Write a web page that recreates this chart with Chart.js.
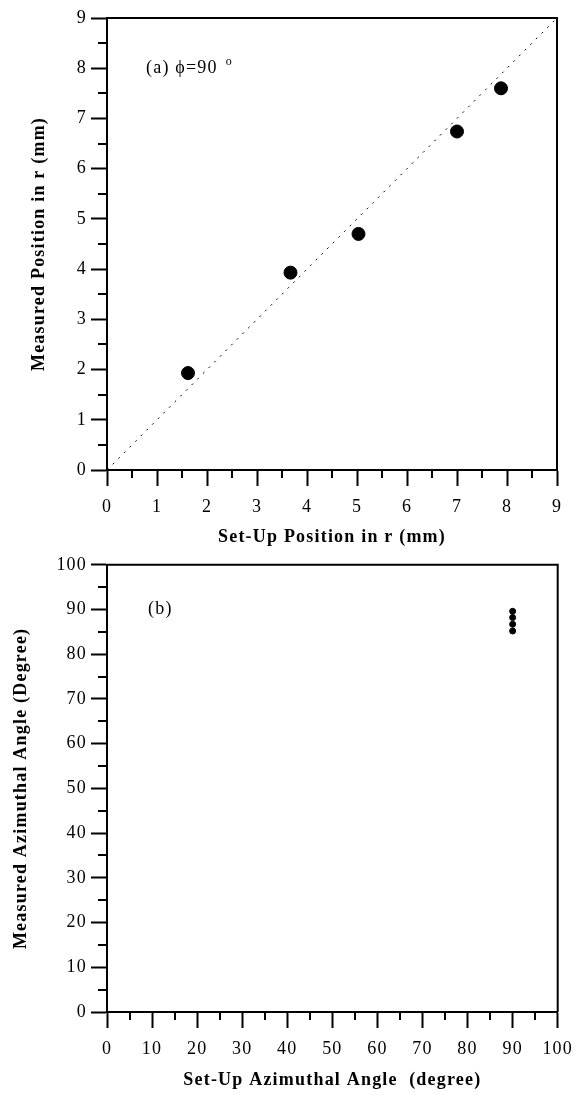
<!DOCTYPE html>
<html>
<head>
<meta charset="utf-8">
<script src="https://cdn.jsdelivr.net/npm/chart.js@4"></script>
<style>
  html, body { margin: 0; padding: 0; background: #fff; }
  #wrap { position: relative; width: 583px; height: 1095px; }
  .box { position: absolute; left: 0; width: 583px; }
  #top { top: 0; height: 550px; }
  #bottom { top: 550px; height: 545px; }
</style>
</head>
<body>
<div id="wrap">
  <div class="box" id="top"><canvas id="chartA"></canvas></div>
  <div class="box" id="bottom"><canvas id="chartB"></canvas></div>
</div>
<script>
// panel (a): radial position
const setupR = [1.62, 3.67, 5.03, 7.0, 7.88]
const measuredR = [1.93, 3.93, 4.70, 6.74, 7.60]
const idealR = [0, 9]
const rTicks = [0, 1, 2, 3, 4, 5, 6, 7, 8, 9]

// panel (b): azimuthal angle
const setupAngle = [90, 90, 90, 90]
const measuredAngle = [89.6, 88.2, 86.7, 85.2]
const angleTicks = [0, 10, 20, 30, 40, 50, 60, 70, 80, 90, 100]

const serif = "'Liberation Serif', 'Times New Roman', serif"

// the old plotting program spaces its glyphs a bit wider
const spacingPlugin = {
  id: "spacing",
  beforeUpdate(chart) { chart.ctx.letterSpacing = "1.2px" },
  beforeDraw(chart) { chart.ctx.letterSpacing = "1.2px" }
}

// box frame, short minor ticks and the panel label
const framePlugin = {
  id: "frame",
  afterDraw(chart, args, opts) {
    const { ctx, chartArea: a, scales: { x, y } } = chart
    ctx.save()
    ctx.strokeStyle = "#000"
    ctx.lineWidth = 2
    ctx.beginPath()
    ctx.moveTo(a.left, a.top)
    ctx.lineTo(a.right, a.top)
    ctx.lineTo(a.right, a.bottom)
    ctx.stroke()

    ctx.beginPath()
    for (let v = opts.xStep / 2; v < x.max; v += opts.xStep) {
      const px = Math.round(x.getPixelForValue(v))
      ctx.moveTo(px, a.bottom)
      ctx.lineTo(px, a.bottom + 8)
    }
    for (let v = opts.yStep / 2; v < y.max; v += opts.yStep) {
      const py = Math.round(y.getPixelForValue(v))
      ctx.moveTo(a.left, py)
      ctx.lineTo(a.left - 9, py)
    }
    ctx.stroke()

    ctx.fillStyle = "#000"
    ctx.textBaseline = "middle"
    ctx.font = "18px " + serif
    const lx = x.getPixelForValue(opts.labelAt[0])
    const ly = y.getPixelForValue(opts.labelAt[1])
    ctx.fillText(opts.label, lx, ly)
    if (opts.degree) {
      const w = ctx.measureText(opts.label).width
      ctx.font = "12px " + serif
      ctx.fillText("o", lx + w + 8, ly - 6)
    }
    ctx.restore()
  }
}

function makeScales(xTicks, yTicks, xTitle, yTitle, yWidth, xHeight, xPad, titlePad) {
  const tickFont = { family: serif, size: 18 }
  const titleFont = { family: serif, size: 18, weight: "bold" }
  return {
    x: {
      type: "linear",
      min: xTicks[0],
      max: xTicks[xTicks.length - 1],
      afterBuildTicks: (s) => { s.ticks = xTicks.map((v) => ({ value: v })) },
      afterFit: (s) => { s.height = xHeight },
      ticks: { color: "#000", font: tickFont, padding: xPad, maxRotation: 0, autoSkip: false },
      grid: { drawOnChartArea: false, color: "#000", tickLength: 16, tickWidth: 2 },
      border: { color: "#000", width: 2 },
      title: { display: true, text: xTitle, color: "#000", font: titleFont, padding: { top: 0, bottom: titlePad } }
    },
    y: {
      type: "linear",
      min: yTicks[0],
      max: yTicks[yTicks.length - 1],
      afterBuildTicks: (s) => { s.ticks = yTicks.map((v) => ({ value: v })) },
      afterFit: (s) => { s.width = yWidth },
      ticks: { color: "#000", font: tickFont, padding: 4, autoSkip: false },
      grid: { drawOnChartArea: false, color: "#000", tickLength: 16, tickWidth: 2 },
      border: { color: "#000", width: 2 },
      title: { display: true, text: yTitle, color: "#000", font: titleFont, padding: { top: 0, bottom: 0 } }
    }
  }
}

new Chart(document.getElementById("chartA"), {
  type: "scatter",
  data: {
    datasets: [
      {
        type: "line",
        label: "ideal",
        data: idealR.map((v) => ({ x: v, y: v })),
        borderColor: "#000",
        borderWidth: 1,
        borderDash: [2, 6],
        pointRadius: 0,
        fill: false
      },
      {
        label: "measured",
        data: setupR.map((v, i) => ({ x: v, y: measuredR[i] })),
        backgroundColor: "#000",
        borderColor: "#000",
        pointRadius: 6.5,
        pointHoverRadius: 6.5
      }
    ]
  },
  options: {
    responsive: true,
    maintainAspectRatio: false,
    animation: false,
    layout: { padding: { top: 18, left: 29, right: 26, bottom: 0 } },
    plugins: {
      legend: { display: false },
      tooltip: { enabled: false },
      frame: { xStep: 1, yStep: 1, label: "(a) \u03d5=90", labelAt: [0.78, 8.0], degree: true }
    },
    scales: makeScales(rTicks, rTicks, "Set-Up Position in r (mm)", "Measured Position in r (mm)", 78, 80, 10, 2)
  },
  plugins: [spacingPlugin, framePlugin]
})

new Chart(document.getElementById("chartB"), {
  type: "scatter",
  data: {
    datasets: [
      {
        label: "measured",
        data: setupAngle.map((v, i) => ({ x: v, y: measuredAngle[i] })),
        backgroundColor: "#000",
        borderColor: "#000",
        pointRadius: 3,
        pointHoverRadius: 3
      }
    ]
  },
  options: {
    responsive: true,
    maintainAspectRatio: false,
    animation: false,
    layout: { padding: { top: 9, left: 11, right: 23, bottom: 0 } },
    plugins: {
      legend: { display: false },
      tooltip: { enabled: false },
      frame: { xStep: 10, yStep: 10, label: "(b)", labelAt: [9.1, 90], degree: false }
    },
    scales: makeScales(angleTicks, angleTicks, "Set-Up Azimuthal Angle  (degree)", "Measured Azimuthal Angle (Degree)", 96, 83, 10, 4)
  },
  plugins: [spacingPlugin, framePlugin]
})
</script>
</body>
</html>
